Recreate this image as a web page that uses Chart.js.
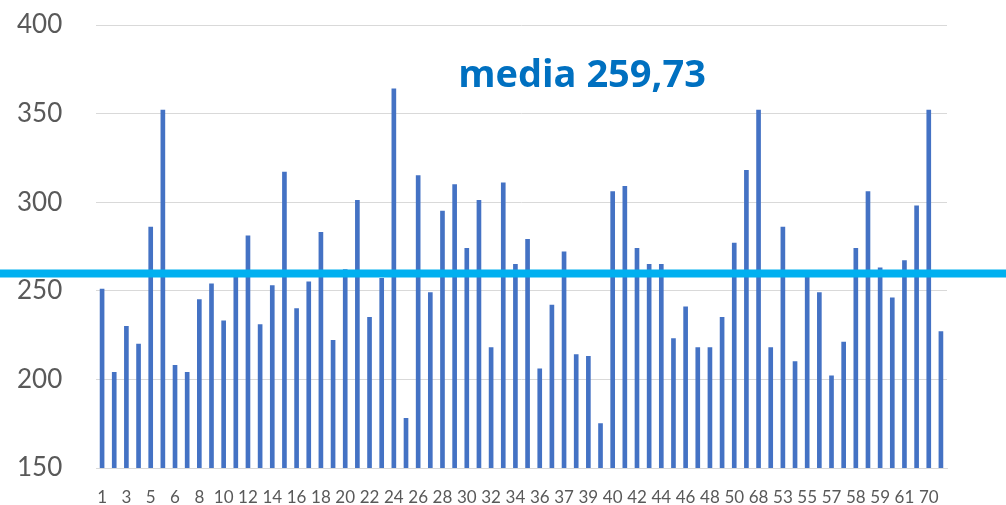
<!DOCTYPE html>
<html lang="it">
<head>
<meta charset="UTF-8">
<title>Media</title>
<script src="https://cdn.jsdelivr.net/npm/chart.js"></script>
<style>
    html, body { margin: 0; padding: 0; background: #fff; }
    #wrap { width: 1006px; height: 505px; }
</style>
</head>
<body>
<div id="wrap"><canvas id="chart"></canvas></div>
<script>
    const labels = ['1','2','3','4','5','64','6','7','8','9','10','11','12','13','14','15','16','17','18','19',
        '20','21','22','23','24','25','26','27','28','29','30','31','32','33','34','35','36','67','37','38',
        '39','69','40','41','42','43','44','45','46','47','48','49','50','51','68','52','53','54','55','56',
        '57','65','58','66','59','60','61','62','70','63'];

    const values = [251, 204, 230, 220, 286, 352, 208, 204, 245, 254,
        233, 259, 281, 231, 253, 317, 240, 255, 283, 222,
        262, 301, 235, 257, 364, 178, 315, 249, 295, 310,
        274, 301, 218, 311, 265, 279, 206, 242, 272, 214,
        213, 175, 306, 309, 274, 265, 265, 223, 241, 218,
        218, 235, 277, 318, 352, 218, 286, 210, 261, 249,
        202, 221, 274, 306, 263, 246, 267, 298, 352, 227];

    const media = 259.73;
    const yTicks = [150, 200, 250, 300, 350, 400];

    const font = "Lato, 'Liberation Sans', sans-serif";

    // horizontal mean line across the full width, plus the label
    const mediaPlugin = {
        id: 'media',
        afterDatasetsDraw(chart) {
            const ctx = chart.ctx;
            const y = chart.scales.y.getPixelForValue(media);
            ctx.save();
            ctx.strokeStyle = '#00B0F0';
            ctx.lineWidth = 8;
            ctx.beginPath();
            ctx.moveTo(0, y);
            ctx.lineTo(chart.width, y);
            ctx.stroke();

            ctx.fillStyle = '#0070C0';
            ctx.font = "bold 38px 'Open Sans', sans-serif";
            ctx.textAlign = 'center';
            ctx.textBaseline = 'alphabetic';
            ctx.fillText('media ' + media.toFixed(2).replace('.', ','), 582, 87);
            ctx.restore();
        }
    };

    new Chart(document.getElementById('chart'), {
        type: 'bar',
        data: {
            labels: labels,
            datasets: [{
                data: values,
                backgroundColor: '#4472C4',
                barThickness: 4
            }]
        },
        options: {
            responsive: true,
            maintainAspectRatio: false,
            animation: false,
            layout: { padding: { top: 25, right: 59, left: 17, bottom: 0 } },
            plugins: {
                legend: { display: false },
                tooltip: { enabled: false }
            },
            scales: {
                x: {
                    grid: { display: false },
                    border: { color: '#d9d9d9', width: 1 },
                    afterFit(scale) { scale.height = 37; },
                    ticks: {
                        autoSkip: false,
                        maxRotation: 0,
                        padding: 11,
                        color: '#595959',
                        font: { family: font, size: 17 },
                        callback: function (val, i) { return i % 2 === 0 ? this.getLabelForValue(val) : ''; }
                    }
                },
                y: {
                    min: yTicks[0],
                    max: yTicks[yTicks.length - 1],
                    afterFit(scale) { scale.width = 79; },
                    afterBuildTicks(scale) { scale.ticks = yTicks.map(v => ({ value: v })); },
                    border: { display: false },
                    grid: { color: '#d9d9d9', lineWidth: 1, drawTicks: false },
                    ticks: {
                        padding: 0,
                        crossAlign: 'far',
                        color: '#595959',
                        font: { family: font, size: 26 }
                    }
                }
            }
        },
        plugins: [mediaPlugin]
    });
</script>
</body>
</html>
